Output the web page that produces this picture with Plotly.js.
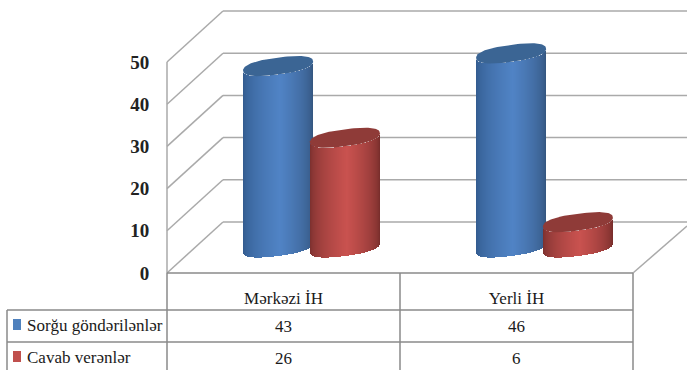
<!DOCTYPE html>
<html>
<head>
<meta charset="utf-8">
<script src="https://cdn.plot.ly/plotly-3.0.1.min.js"></script>
<style>html,body{margin:0;padding:0;background:#fff}#chart{width:687px;height:370px}</style>
</head>
<body>
<div id="chart"></div>
<script>
var categories = ['Mərkəzi İH', 'Yerli İH'];
var seriesNames = ['Sorğu göndərilənlər', 'Cavab verənlər'];
var sorgu = [43, 46];
var cavab = [26, 6];
var valueTicks = [0, 10, 20, 30, 40, 50];

// Scale of the drawing: one category and one value unit, in screen pixels
var W = 687, H = 370;
var PX_X = 233, PX_Y = 4.22;
var X0 = 167, Y0 = 273;
var xr = [-X0 / PX_X, (W - X0) / PX_X];
var yr = [(Y0 - H) / PX_Y, Y0 / PX_Y];
var dx = px => px / PX_X;
var dy = px => px / PX_Y;
var tx = px => (px - X0) / PX_X;       // screen x -> axis x
var ty = px => (Y0 - px) / PX_Y;       // screen y -> axis y

var DEPTH_X = dx(56), DEPTH_Y = dy(51);
var A = dx(35), B = dy(8.5), S = dy(4.5);
var OFFSET = dx(33.4);
var ROUND = 0.82;   // <1 gives the cylinder ends their slightly squared outline

var GRID = '#aaaaaa', TABLE = '#8a8a8a';
var shapes = [];
function seg(x0, y0, x1, y1, color, w) {
  shapes.push({type: 'line', layer: 'below', xref: 'x', yref: 'y', x0: x0, y0: y0, x1: x1, y1: y1,
    line: {color: color, width: w}});
}
valueTicks.forEach(function (v) {
  seg(0, v, DEPTH_X, v + DEPTH_Y, GRID, 1.5);
  seg(DEPTH_X, v + DEPTH_Y, xr[1], v + DEPTH_Y, GRID, 1.5);
});
seg(0, 0, 0, valueTicks[valueTicks.length - 1], GRID, 1.5);
seg(2, 0, xr[1], dy(47), GRID, 1.5);

// Data table grid
seg(0, 0, 2, 0, TABLE, 1.5);
[310, 342].forEach(function (p) { seg(tx(7), ty(p), 2, ty(p), TABLE, 1.5); });
seg(tx(7), ty(310), tx(7), yr[0], TABLE, 1.5);
[0, 1, 2].forEach(function (c) { seg(c, 0, c, yr[0], TABLE, 1.5); });

function mix(a, b, t) {
  return 'rgb(' + a.map(function (v, i) { return Math.round(v + (b[i] - v) * t); }).join(',') + ')';
}
function spow(v, p) { return (v < 0 ? -1 : 1) * Math.pow(Math.abs(v), p); }

var palettes = [
  {edgeL: [48, 88, 138], mid: [80, 131, 197], edgeR: [50, 82, 122], top: '#3b6594', key: '#4f81bd'},
  {edgeL: [118, 46, 44], mid: [201, 82, 79], edgeR: [112, 42, 40], top: '#8f3b38', key: '#c0504d'}
];

function cylinderTraces(values, side, pal) {
  var xs = [], bases = [], hs = [], cols = [];
  var tops = [];
  values.forEach(function (v, c) {
    var cx = c + 0.5 + DEPTH_X / 2 + side * OFFSET;
    var cy = DEPTH_Y / 2;
    var steps = Math.round(2 * A * PX_X);
    for (var i = 0; i < steps; i++) {
      var u = -1 + (2 * (i + 0.5)) / steps;
      var arc = Math.pow(Math.max(0, 1 - Math.pow(Math.abs(u), 2 / ROUND)), ROUND / 2);
      var front = S * u - B * arc;
      xs.push(cx + u * A);
      bases.push(cy + front);
      hs.push(v);
      var t = u < 0.05 ? (u + 1) / 1.05 : (1 - u) / 0.95;
      t = Math.pow(t, 0.55);
      cols.push(mix(u < 0.05 ? pal.edgeL : pal.edgeR, pal.mid, t));
    }
    var px = [], py = [];
    for (var k = 0; k <= 96; k++) {
      var a = k / 96 * 2 * Math.PI;
      var cu = spow(Math.cos(a), ROUND), su = spow(Math.sin(a), ROUND);
      px.push(cx + A * cu);
      py.push(cy + v + S * cu + B * su);
    }
    tops.push({type: 'scatter', mode: 'lines', x: px, y: py, fill: 'toself', fillcolor: pal.top,
      line: {width: 0, color: pal.top}, hoverinfo: 'skip', showlegend: false});
  });
  var body = {type: 'bar', x: xs, y: hs, base: bases, width: dx(1.15),
    marker: {color: cols, line: {width: 0}}, hoverinfo: 'skip', showlegend: false};
  return {body: body, tops: tops};
}

var blue = cylinderTraces(sorgu, -1, palettes[0]);
var red = cylinderTraces(cavab, 1, palettes[1]);
var data = [blue.body, red.body].concat(blue.tops, red.tops);

var SERIF = 'Liberation Serif, Times New Roman, serif';
var tableFont = {family: SERIF, size: 17, color: '#1a1a1a'};
var annotations = [];
[sorgu, cavab].forEach(function (vals, r) {
  var rowPx = [326, 358][r];
  shapes.push({type: 'rect', layer: 'above', xref: 'x', yref: 'y',
    x0: tx(13), x1: tx(21), y0: ty(rowPx - 7), y1: ty(rowPx + 4),
    fillcolor: palettes[r].key, line: {width: 0}});
  annotations.push({xref: 'x', yref: 'y', x: tx(25), y: ty(rowPx - 1), text: seriesNames[r],
    showarrow: false, xanchor: 'left', yanchor: 'middle', font: tableFont});
  vals.forEach(function (v, c) {
    annotations.push({xref: 'x', yref: 'y', x: c + 0.5, y: ty(rowPx), text: String(v),
      showarrow: false, xanchor: 'center', yanchor: 'middle', font: tableFont});
  });
});

var layout = {
  width: W, height: H, margin: {l: 0, r: 0, t: 0, b: 0},
  paper_bgcolor: '#fff', plot_bgcolor: '#fff',
  font: {family: SERIF},
  barmode: 'overlay', bargap: 0, showlegend: false,
  xaxis: {range: xr, anchor: 'free', position: (H - Y0) / H, side: 'bottom',
    tickmode: 'array', tickvals: [0.5, 1.5], ticktext: categories,
    ticks: 'outside', ticklen: 10, tickcolor: 'rgba(0,0,0,0)',
    tickfont: tableFont,
    showgrid: false, zeroline: false, showline: false, automargin: false, fixedrange: true},
  yaxis: {range: yr, anchor: 'free', position: X0 / W, side: 'left',
    tickmode: 'array', tickvals: valueTicks,
    ticks: 'outside', ticklen: 14, tickcolor: 'rgba(0,0,0,0)',
    tickfont: {family: SERIF, size: 19, color: '#222222', weight: 700},
    showgrid: false, zeroline: false, showline: false, automargin: false, fixedrange: true},
  shapes: shapes, annotations: annotations
};
Plotly.newPlot('chart', data, layout, {displayModeBar: false, staticPlot: true});
</script>
</body>
</html>
